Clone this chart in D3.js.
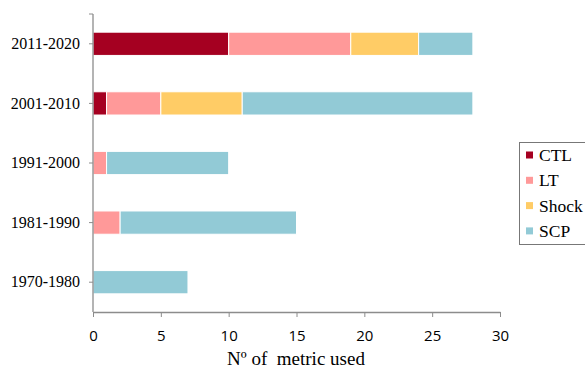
<!DOCTYPE html>
<html><head><meta charset="utf-8">
<script src="https://cdn.jsdelivr.net/npm/d3@7"></script>
<style>body{margin:0;background:#fff}svg{display:block}</style>
</head><body>
<svg id="c" width="585" height="369"></svg>
<script>
const categories = ["2011-2020","2001-2010","1991-2000","1981-1990","1970-1980"];
const seriesNames = ["CTL","LT","Shock","SCP"];
const CTL   = [10, 1, 0, 0, 0];
const LT    = [9, 4, 1, 2, 0];
const Shock = [5, 6, 0, 0, 0];
const SCP   = [4, 17, 9, 13, 7];
const xTicks = [0,5,10,15,20,25,30];
const colors = ["#A50021","#FF9999","#FFCC66","#92CAD6"];
const xTitle = "Nº of  metric used";
const serif = "'Liberation Serif', 'Times New Roman', Times, serif";

const svg = d3.select("#c");
const m = {l:93, r:500, t:14, b:312};
const x = d3.scaleLinear().domain([0,30]).range([m.l, m.r]);
const y = d3.scaleBand().domain(categories).range([m.t, m.b]).paddingInner(0.61).paddingOuter(0.305);

const rows = categories.map((c,i)=>({cat:c, CTL:CTL[i], LT:LT[i], Shock:Shock[i], SCP:SCP[i]}));
const stack = d3.stack().keys(seriesNames)(rows);

svg.append("g").selectAll("g").data(stack).join("g")
  .attr("fill",(d,i)=>colors[i])
  .selectAll("rect").data(d=>d.filter(e=>e[1]-e[0]>0)).join("rect")
  .attr("x",d=>x(d[0])).attr("width",d=>x(d[1])-x(d[0]))
  .attr("y",d=>y(d.data.cat)).attr("height",y.bandwidth())
  .attr("stroke","#fff").attr("stroke-width",1);

const axisColor = "#8c8c8c";
const gy = svg.append("g").attr("transform",`translate(${m.l},0)`)
  .call(d3.axisLeft(y).tickSize(4).tickPadding(9).tickSizeOuter(0));
gy.attr("font-family",null).attr("font-size",null);
gy.select(".domain").attr("stroke",axisColor).attr("d",`M0,${m.t}V${m.b}`).attr("stroke-width",1.3);
gy.selectAll(".tick line").attr("stroke",axisColor);
gy.selectAll("text").style("font-family",serif).style("font-size","16px").attr("fill","#000");
gy.append("line").attr("x1",-4).attr("x2",0).attr("y1",m.t).attr("y2",m.t).attr("stroke",axisColor);

const gx = svg.append("g").attr("transform",`translate(0,${m.b})`)
  .call(d3.axisBottom(x).tickValues(xTicks).tickSize(5).tickPadding(14).tickSizeOuter(0));
gx.attr("font-family",null).attr("font-size",null);
gx.select(".domain").attr("stroke",axisColor).attr("stroke-width",1.3);
gx.selectAll(".tick line").attr("stroke",axisColor);
gx.selectAll("text").attr("y",29).attr("dy",null)
  .style("font-family","'Open Sans', sans-serif").style("font-size","15px").attr("fill","#000");

svg.append("text").attr("x",296).attr("y",365).attr("text-anchor","middle")
  .style("font-family",serif).style("font-size","19px")
  .style("white-space","pre").text(xTitle);

// legend
const lg = svg.append("g");
lg.append("rect").attr("x",519.5).attr("y",142.5).attr("width",70).attr("height",102)
  .attr("fill","#fff").attr("stroke","#777").attr("stroke-width",1);
seriesNames.forEach((s,i)=>{
  const cy = 155 + i*25.3;
  lg.append("rect").attr("x",526).attr("y",cy-3.5).attr("width",7).attr("height",7).attr("fill",colors[i]);
  lg.append("text").attr("x",539).attr("y",cy+6).style("font-family",serif)
    .style("font-size","17.5px").attr("fill","#000").text(s);
});
</script>
</body></html>
